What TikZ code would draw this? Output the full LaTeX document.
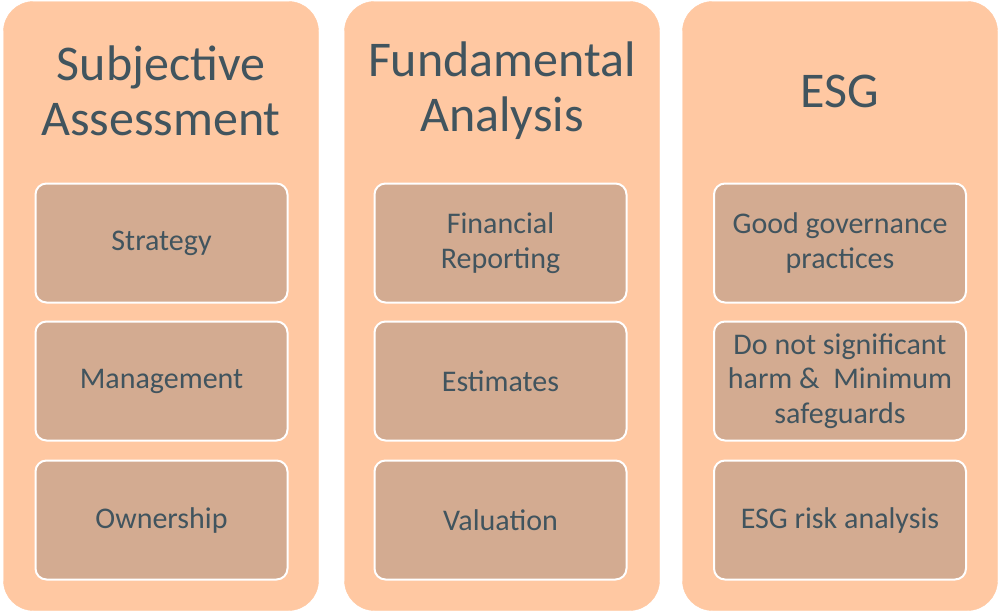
\documentclass[tikz,border=0pt]{standalone}
\usepackage{fontspec}
\setmainfont{Carlito}
\usetikzlibrary{positioning}
\definecolor{peach}{HTML}{FFC8A2}
\definecolor{itemtan}{HTML}{D3AB91}
\definecolor{slate}{HTML}{41545E}

\begin{document}
\begin{tikzpicture}[
    x=1pt, y=-1pt,
    column box/.style={fill=peach, draw=peach, rounded corners=30pt, minimum width=315pt, minimum height=609pt, inner sep=0pt},
    item box/.style={fill=itemtan, draw=white, line width=2pt, rounded corners=11pt, minimum width=252pt, minimum height=119pt, align=center, text=slate, font=\fontsize{30}{34.5}\selectfont},
    title/.style={text=slate, align=center, font=\fontsize{50}{55}\selectfont}
    ]
    \useasboundingbox (0,0) rectangle (998,613);

    % columns
    \node[column box] (subj) at (161,306) {};
    \node[column box] (fund) at (502,306) {};
    \node[column box] (esg) at (840,306) {};

    % titles
    \node[title] (subjtitle) at (161,91) {Subjective\\Assessment};
    \node[title] (fundtitle) at (502,91) {Fundamental\\Analysis};
    \node[title] (esgtitle) at (840,91) {ESG};

    % subjective assessment
    \node[item box] (strategy) at (161.5,243) {Strategy};
    \node[item box] (management) at (161.5,381) {Management};
    \node[item box] (ownership) at (161.5,520) {Ownership};

    % fundamental analysis
    \node[item box] (reporting) at (500.5,243) {Financial\\Reporting};
    \node[item box] (estimates) at (500.5,381) {Estimates};
    \node[item box] (valuation) at (500.5,520) {Valuation};

    % esg
    \node[item box] (governance) at (840,243) {Good governance\\practices};
    \node[item box] (harm) at (840,381) {Do not significant\\harm \&\ \ Minimum\\safeguards};
    \node[item box] (risk) at (840,520) {ESG risk analysis};

\end{tikzpicture}
\end{document}
